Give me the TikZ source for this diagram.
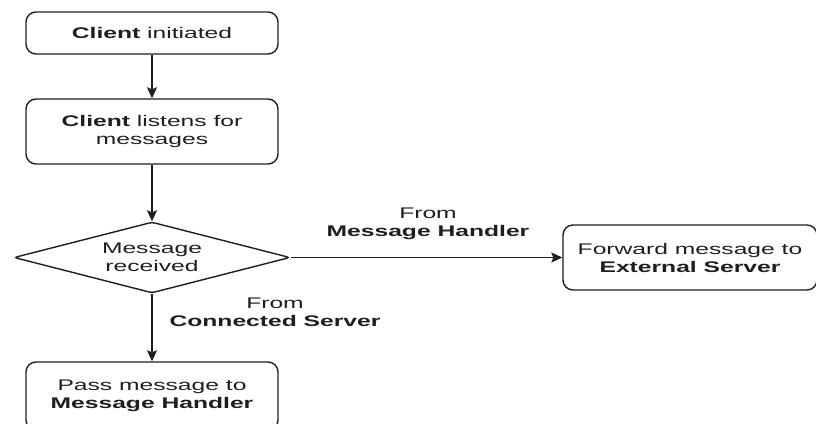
\documentclass[tikz,border=0pt]{standalone}
\usepackage{fontspec}
\setmainfont{Liberation Sans}[FakeStretch=1.6]
\usetikzlibrary{shapes.geometric,arrows.meta}
\definecolor{ink}{HTML}{1E1E1E}
\tikzset{
  flowbox/.style={draw=ink, line width=1.4pt, rounded corners=10pt, align=center,
    inner sep=0pt, text=ink, font=\fontsize{15.4}{18}\selectfont},
  decision/.style={draw=ink, line width=1.4pt, diamond, aspect=3.9, rounded corners=3pt,
    align=center, inner sep=0pt, text=ink, font=\fontsize{15.4}{18}\selectfont},
  flowlabel/.style={align=center, inner sep=0pt, text=ink, font=\fontsize{15.4}{18}\selectfont},
  flow/.style={draw=ink, line width=1.4pt, -{Stealth[length=11pt,width=10pt,inset=2pt]}}
}
\begin{document}
\begin{tikzpicture}[x=1pt,y=-1pt]
  \useasboundingbox (0,0) rectangle (816,423);
  \begin{scope}
    \clip (0,0) rectangle (816,423);
    \node[flowbox, minimum width=252pt, minimum height=42pt] (init) at (152,33)
      {\textbf{Client} initiated};
    \node[flowbox, minimum width=252pt, minimum height=65pt] (listen) at (152,131.5)
      {\textbf{Client} listens for\\messages};
    \node[decision, minimum width=276pt, minimum height=71pt] (recv) at (152,257.5)
      {Message\\received};
    \node[flowbox, minimum width=254pt, minimum height=65pt] (fwd) at (690,257.5)
      {Forward message to\\\textbf{External Server}};
    \node[flowbox, minimum width=252pt, minimum height=68pt] (pass) at (152,396)
      {Pass message to\\\textbf{Message Handler}};

    \draw[flow] (init) -- (listen);
    \draw[flow] (listen) -- (recv);
    \draw[flow] (recv.east) -- (fwd.west);
    \draw[flow] (recv.south) -- (pass.north);

    \node[flowlabel] (lblhandler) at (428,224) {From\\\textbf{Message Handler}};
    \node[flowlabel] (lblserver) at (275,312) {From\\\textbf{Connected Server}};
  \end{scope}
\end{tikzpicture}
\end{document}
